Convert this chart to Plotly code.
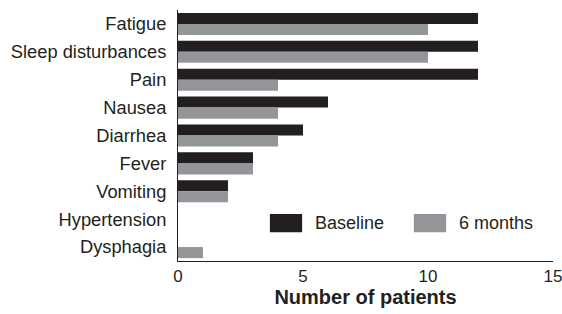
import plotly.graph_objects as go

categories = ["Fatigue", "Sleep disturbances", "Pain", "Nausea", "Diarrhea",
              "Fever", "Vomiting", "Hypertension", "Dysphagia"]
baseline = [12, 12, 12, 6, 5, 3, 2, 0, 0]
six_months = [10, 10, 4, 4, 4, 3, 2, 0, 1]
series_names = ["Baseline", "6 months"]
x_ticks = [0, 5, 10, 15]

BLACK = "#231f20"
GRAY = "#939598"
FONT = "Liberation Sans, Arial, sans-serif"

fig = go.Figure()
fig.add_trace(go.Bar(y=categories, x=baseline, orientation="h", name=series_names[0],
                     marker=dict(color=BLACK, line=dict(width=0)), showlegend=False))
fig.add_trace(go.Bar(y=categories, x=six_months, orientation="h", name=series_names[1],
                     marker=dict(color=GRAY, line=dict(width=0)), showlegend=False))

fig.update_layout(
    width=562, height=314,
    margin=dict(l=178, r=9, t=10, b=53),
    paper_bgcolor="white", plot_bgcolor="white",
    barmode="group", bargap=0.21, bargroupgap=0,
    font=dict(family=FONT, color=BLACK, size=17),
)
fig.update_yaxes(autorange="reversed", showline=True, linecolor=BLACK, linewidth=1,
                 ticks="", showgrid=False, zeroline=False, automargin=False,
                 tickfont=dict(size=18.3, color=BLACK), ticklabelstandoff=7)
fig.update_xaxes(range=[0, 15], tickvals=x_ticks, showline=True, linecolor=BLACK, linewidth=1,
                 ticks="", showgrid=False, zeroline=False, automargin=False,
                 tickfont=dict(size=17, color=BLACK), ticklabeloverflow="allow",
                 title=dict(text="<b>Number of patients</b>", font=dict(size=20, color=BLACK),
                            standoff=4))

# custom legend with large swatches
legend_items = [(0.245, 0.331, 0.36, BLACK, series_names[0]),
                (0.629, 0.715, 0.744, GRAY, series_names[1])]
for x0, x1, xt, col, name in legend_items:
    fig.add_shape(type="rect", xref="paper", yref="paper", x0=x0, x1=x1, y0=0.115, y1=0.187,
                  fillcolor=col, line=dict(width=0))
    fig.add_annotation(xref="paper", yref="paper", x=xt, y=0.151, text=name, showarrow=False,
                       xanchor="left", yanchor="middle", font=dict(size=18, color=BLACK))

fig.write_html(
    "out.html",
    config={"displayModeBar": False, "staticPlot": True},
    post_script="document.body.style.margin='0';document.body.style.overflow='hidden';",
)
